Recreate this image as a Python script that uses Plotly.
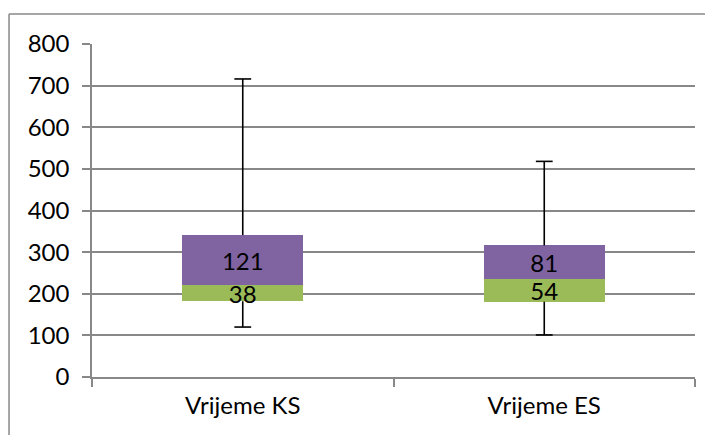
import plotly.graph_objects as go

# Vrijednosti očitane s grafa (box plot u Excel stilu)
kategorije = ['Vrijeme KS', 'Vrijeme ES']
minimum = [120, 101]
q1 = [182, 181]
medijan = [220, 235]
q3 = [341, 316]
maksimum = [716, 518]

donji_dio = [m - a for a, m in zip(q1, medijan)]
gornji_dio = [b - m for m, b in zip(medijan, q3)]

FONT = 'Lato'
SIVA = '#888888'
VEL = 24

fig = go.Figure()

# nevidljiva baza (Q1)
fig.add_trace(go.Bar(
    x=kategorije, y=q1,
    marker=dict(color='rgba(0,0,0,0)', line=dict(width=0)),
    showlegend=False, hoverinfo='skip'
))
fig.add_trace(go.Bar(
    x=kategorije, y=donji_dio,
    marker=dict(color='#9BBB59', line=dict(width=0)),
    text=donji_dio, textposition='inside', insidetextanchor='middle',
    constraintext='none', textangle=0,
    textfont=dict(family=FONT, size=VEL, color='black'),
    showlegend=False, hoverinfo='skip'
))
fig.add_trace(go.Bar(
    x=kategorije, y=gornji_dio,
    marker=dict(color='#8064A2', line=dict(width=0)),
    text=gornji_dio, textposition='inside', insidetextanchor='middle',
    constraintext='none', textangle=0,
    textfont=dict(family=FONT, size=VEL, color='black'),
    showlegend=False, hoverinfo='skip'
))

# brkovi: linije od minimuma do Q1 i od Q3 do maksimuma
brk_x, brk_y = [], []
for k, lo, a, b, hi in zip(kategorije, minimum, q1, q3, maksimum):
    brk_x += [k, k, None, k, k, None]
    brk_y += [lo, a, None, b, hi, None]
fig.add_trace(go.Scatter(
    x=brk_x, y=brk_y, mode='lines',
    line=dict(color='black', width=1.6),
    showlegend=False, hoverinfo='skip'
))
# kapice na krajevima brkova
fig.add_trace(go.Scatter(
    x=kategorije + kategorije, y=minimum + maksimum, mode='markers',
    marker=dict(symbol='line-ew', size=12, line=dict(color='black', width=1.6)),
    showlegend=False, hoverinfo='skip'
))

fig.update_layout(
    width=705, height=427,
    margin=dict(l=84, r=18, t=36, b=58),
    barmode='stack', bargap=0.6,
    plot_bgcolor='white', paper_bgcolor='white',
    font=dict(family=FONT, size=VEL, color='black'),
)

fig.update_xaxes(
    range=[-0.5, 1.5],
    showgrid=False, showline=True, linecolor=SIVA, linewidth=1.5,
    ticks='outside', tickson='boundaries', ticklen=8, tickcolor=SIVA, tickwidth=1.5,
    ticklabelstandoff=6,
)
fig.update_yaxes(
    range=[0, 800], dtick=100,
    showgrid=True, gridcolor=SIVA, gridwidth=1.5,
    zeroline=False,
    showline=True, linecolor=SIVA, linewidth=1.5,
    ticks='outside', ticklen=8, tickcolor=SIVA, tickwidth=1.5,
    ticklabelstandoff=8,
)

# okvir grafa (gornji i lijevi rub)
fig.add_shape(type='line', xref='paper', yref='paper',
              x0=-0.1376, x1=1.2, y0=1.09, y1=1.09,
              line=dict(color=SIVA, width=1.5))
fig.add_shape(type='line', xref='paper', yref='paper',
              x0=-0.1376, x1=-0.1376, y0=1.09, y1=-0.3,
              line=dict(color=SIVA, width=1.5))

fig.write_html("out.html")
